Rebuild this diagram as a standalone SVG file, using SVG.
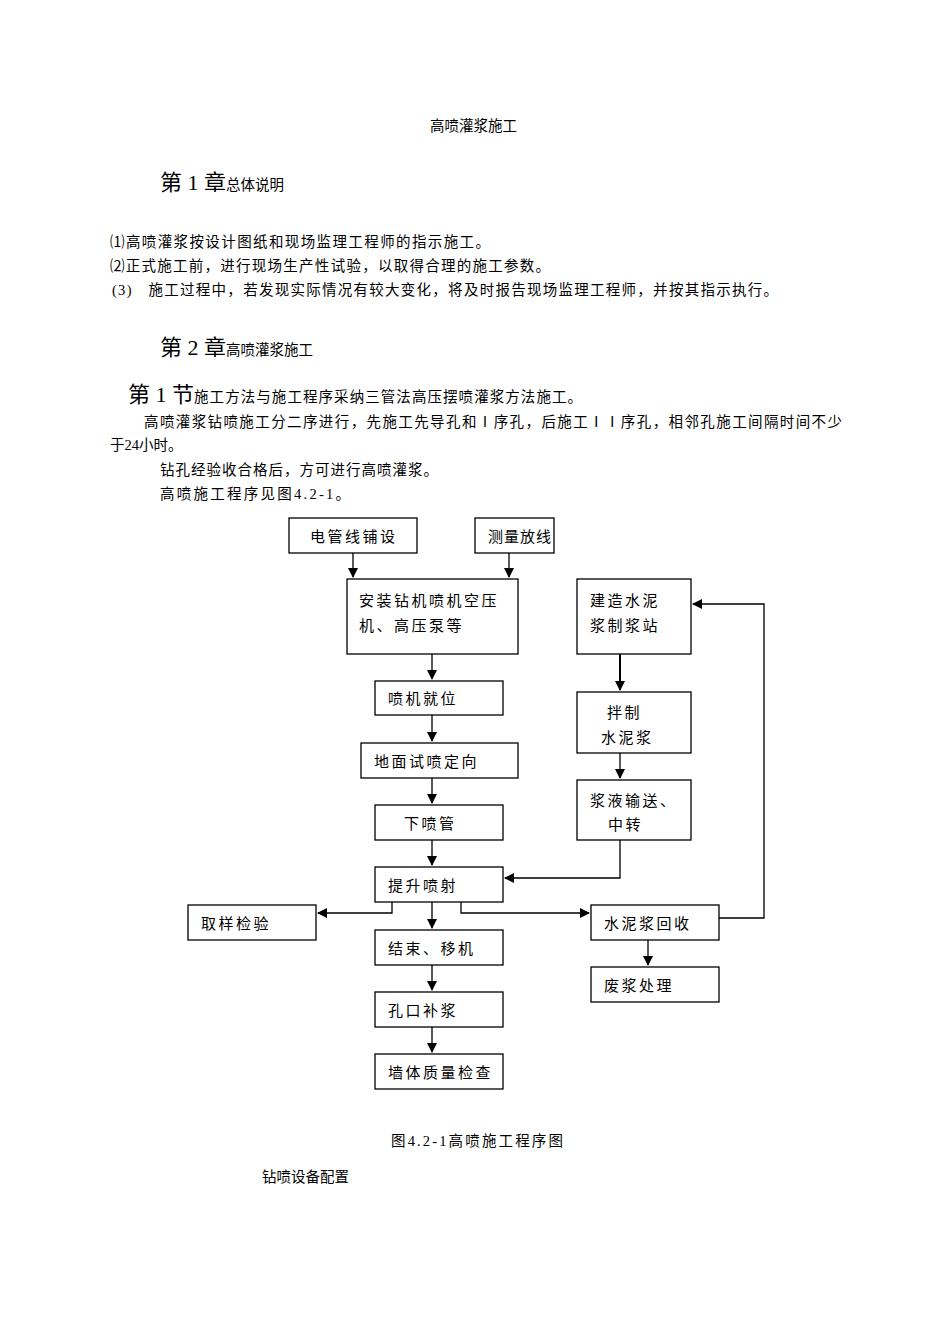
<svg xmlns="http://www.w3.org/2000/svg" width="950" height="1344" viewBox="0 0 950 1344">
<defs>
<marker id="ah" markerWidth="10" markerHeight="10" refX="9" refY="5" orient="auto" markerUnits="userSpaceOnUse"><path d="M0,0 L10,5 L0,10 Z" fill="#000"/></marker>
<style>
text{font-family:"Liberation Serif","Noto Sans CJK SC",serif;fill:#000}
.t{font-size:14.5px}
.h{font-size:22px}
.n rect{fill:#fff;stroke:#000;stroke-width:1.3}
.n text{font-size:15px;letter-spacing:2.5px;font-family:"Noto Sans CJK SC",sans-serif}
.c path{fill:none;stroke:#000;stroke-width:1.3;marker-end:url(#ah)}
</style>
</defs>
<rect width="950" height="1344" fill="#fff"/>
<text class="t" x="430" y="131">高喷灌浆施工</text>
<text x="160" y="190"><tspan class="h">第 1 章</tspan><tspan class="t">总体说明</tspan></text>
<text class="t" x="110" y="247" textLength="380">⑴高喷灌浆按设计图纸和现场监理工程师的指示施工。</text>
<text class="t" x="110" y="271" textLength="440">⑵正式施工前，进行现场生产性试验，以取得合理的施工参数。</text>
<text class="t" x="112" y="295" textLength="666">(3)　施工过程中，若发现实际情况有较大变化，将及时报告现场监理工程师，并按其指示执行。</text>
<text x="160" y="355"><tspan class="h">第 2 章</tspan><tspan class="t">高喷灌浆施工</tspan></text>
<text x="128" y="402"><tspan class="h">第 1 节</tspan><tspan class="t" textLength="388">施工方法与施工程序采纳三管法高压摆喷灌浆方法施工。</tspan></text>
<text class="t" x="144" y="427" textLength="698">高喷灌浆钻喷施工分二序进行，先施工先导孔和Ⅰ序孔，后施工ⅠⅠ序孔，相邻孔施工间隔时间不少</text>
<text class="t" x="110" y="450">于24小时。</text>
<text class="t" x="160" y="475" textLength="278">钻孔经验收合格后，方可进行高喷灌浆。</text>
<text class="t" x="160" y="499" textLength="190">高喷施工程序见图4.2-1。</text>
<g class="c">
<path d="M353,553 V577"/>
<path d="M509,553 V577"/>
<path d="M432,654 V679"/>
<path d="M432,715 V741"/>
<path d="M432,778 V803"/>
<path d="M432,840 V865"/>
<path d="M620,654 V690" style="stroke-width:2"/>
<path d="M620,753 V778"/>
<path d="M620,840 V878 H505"/>
<path d="M719,918 H764 V604 H693"/>
<path d="M392,902 V913 H318"/>
<path d="M461,902 V913 H589"/>
<path d="M432,902 V928"/>
<path d="M432,965 V990"/>
<path d="M432,1027 V1052"/>
<path d="M648,940 V965"/>
</g>
<g class="n" id="n1"><rect x="289" y="518" width="128" height="35"/><text x="310" y="542">电管线铺设</text></g>
<g class="n" id="n2"><rect x="475" y="518" width="79" height="35"/><text x="488" y="542" style="letter-spacing:1px">测量放线</text></g>
<g class="n" id="n3"><rect x="347" y="579" width="171" height="75"/><text x="359" y="606">安装钻机喷机空压</text><text x="359" y="631">机、高压泵等</text></g>
<g class="n" id="n4"><rect x="577" y="579" width="114" height="75"/><text x="590" y="606">建造水泥</text><text x="590" y="631">浆制浆站</text></g>
<g class="n" id="n5"><rect x="375" y="681" width="128" height="34"/><text x="388" y="704">喷机就位</text></g>
<g class="n" id="n6"><rect x="577" y="692" width="114" height="61"/><text x="607" y="718">拌制</text><text x="601" y="743">水泥浆</text></g>
<g class="n" id="n7"><rect x="361" y="743" width="157" height="35"/><text x="374" y="767">地面试喷定向</text></g>
<g class="n" id="n8"><rect x="577" y="780" width="114" height="60"/><text x="590" y="806">浆液输送、</text><text x="608" y="830">中转</text></g>
<g class="n" id="n9"><rect x="375" y="805" width="128" height="35"/><text x="404" y="829">下喷管</text></g>
<g class="n" id="n10"><rect x="375" y="867" width="128" height="35"/><text x="388" y="891">提升喷射</text></g>
<g class="n" id="n11"><rect x="188" y="905" width="128" height="35"/><text x="201" y="929">取样检验</text></g>
<g class="n" id="n12"><rect x="591" y="905" width="128" height="35"/><text x="604" y="929">水泥浆回收</text></g>
<g class="n" id="n13"><rect x="375" y="930" width="128" height="35"/><text x="388" y="954">结束、移机</text></g>
<g class="n" id="n14"><rect x="591" y="967" width="128" height="35"/><text x="604" y="991">废浆处理</text></g>
<g class="n" id="n15"><rect x="375" y="992" width="128" height="35"/><text x="388" y="1016">孔口补浆</text></g>
<g class="n" id="n16"><rect x="375" y="1054" width="128" height="35"/><text x="388" y="1078">墙体质量检查</text></g>
<text class="t" x="391" y="1146" textLength="172">图4.2-1高喷施工程序图</text>
<text class="t" x="262" y="1182">钻喷设备配置</text>
</svg>
